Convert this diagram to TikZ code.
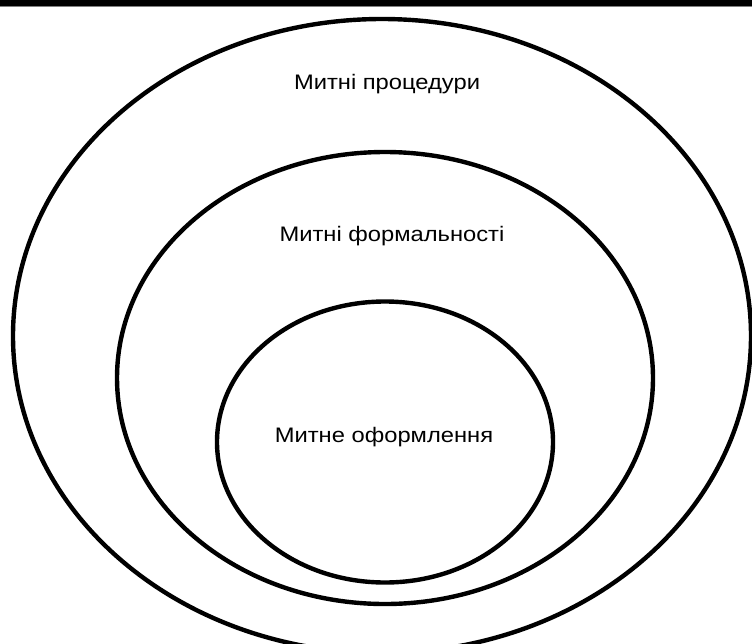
\documentclass[tikz,border=0pt]{standalone}
\usepackage{fontspec}
\setmainfont{Liberation Sans}
\usetikzlibrary{shapes.geometric, positioning}
\tikzstyle{ring} = [ellipse, draw=black, line width=4.4pt, inner sep=0pt]
\tikzstyle{label} = [font=\fontsize{21}{23}\selectfont, text=black, inner sep=0pt]
\newcommand{\widetext}[1]{\scalebox{1.13}[1]{#1}}

\begin{document}
\begin{tikzpicture}[x=1pt, y=-1pt]
            \useasboundingbox (0,0) rectangle (752,643);
            \clip (0,0) rectangle (752,643);
            \fill[black] (0,0) rectangle (752,5.5);
            \fill[gray] (0,5.5) rectangle (752,7);

            \node (outer) [ring, minimum width=738pt, minimum height=634pt] at (382,336) {};
            \node (middle) [ring, minimum width=536pt, minimum height=452pt] at (385,378) {};
            \node (inner) [ring, minimum width=336pt, minimum height=281pt] at (385,442) {};

            \node (proc) [label] at (387,84) {\widetext{Митні процедури}};
            \node (form) [label] at (392,236) {\widetext{Митні формальності}};
            \node (ofor) [label] at (384,437) {\widetext{Митне оформлення}};
        \end{tikzpicture}
\end{document}
